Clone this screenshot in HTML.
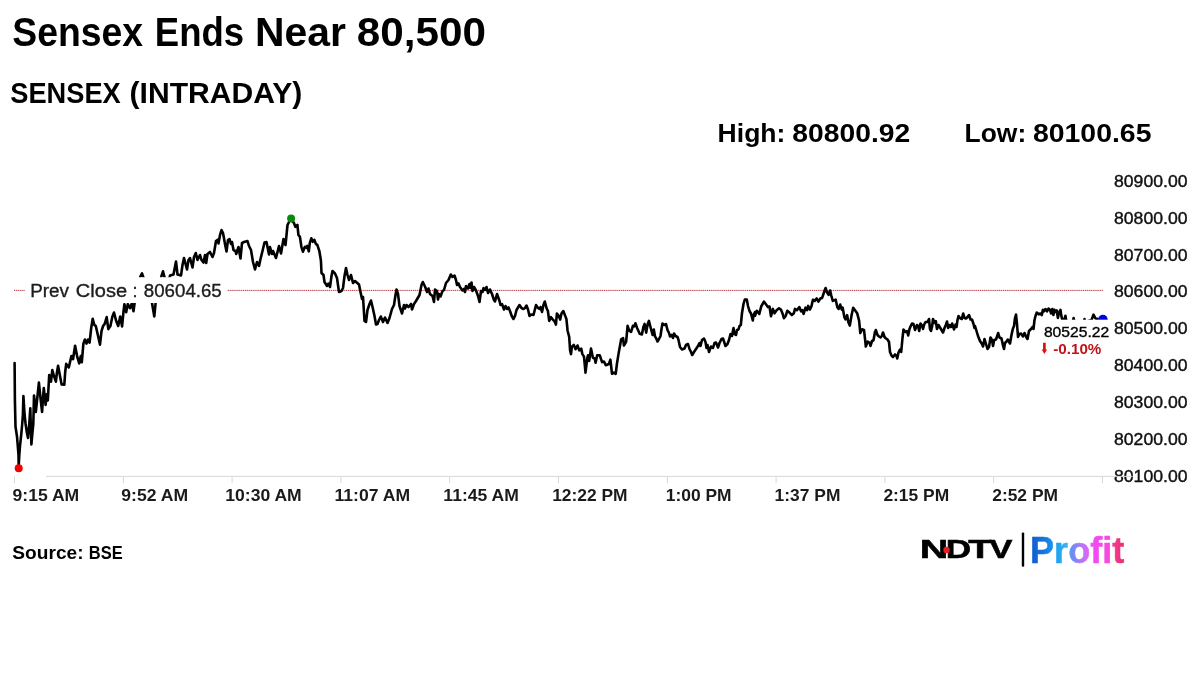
<!DOCTYPE html>
<html lang="en">
<head>
<meta charset="utf-8">
<title>Sensex Ends Near 80,500</title>
<style>
html,body{margin:0;padding:0;background:#fff;}
body{width:1200px;height:674px;overflow:hidden;font-family:"Liberation Sans", sans-serif;}
svg{display:block;position:absolute;left:0;top:0;will-change:transform;}
text{font-family:"Liberation Sans", sans-serif;}
.b{font-weight:700;}
</style>
</head>
<body>
<svg width="1200" height="674" viewBox="0 0 1200 674">
<defs>
<linearGradient id="pg" gradientUnits="userSpaceOnUse" x1="1032" y1="0" x2="1124" y2="0">
<stop offset="0" stop-color="#0f5fd0"/>
<stop offset="0.14" stop-color="#1878e0"/>
<stop offset="0.26" stop-color="#16a0f0"/>
<stop offset="0.38" stop-color="#3cb4f6"/>
<stop offset="0.44" stop-color="#6f8cf2"/>
<stop offset="0.52" stop-color="#a97af4"/>
<stop offset="0.61" stop-color="#dd66f5"/>
<stop offset="0.68" stop-color="#f24af2"/>
<stop offset="0.83" stop-color="#f74ae0"/>
<stop offset="0.89" stop-color="#f43a95"/>
<stop offset="1" stop-color="#e9306a"/>
</linearGradient>
</defs>
<rect x="0" y="0" width="1200" height="674" fill="#ffffff"/>
<text class="b" x="12.33" y="45.6" font-size="40.0" textLength="130.7" lengthAdjust="spacingAndGlyphs" fill="#000">Sensex</text>
<text class="b" x="154.79" y="45.6" font-size="40.0" textLength="89.32" lengthAdjust="spacingAndGlyphs" fill="#000">Ends</text>
<text class="b" x="254.99" y="45.6" font-size="40.0" textLength="90.83" lengthAdjust="spacingAndGlyphs" fill="#000">Near</text>
<text class="b" x="356.78" y="45.6" font-size="40.0" textLength="129.1" lengthAdjust="spacingAndGlyphs" fill="#000">80,500</text>
<text class="b" x="10.25" y="102.5" font-size="28.6" textLength="110.51" lengthAdjust="spacingAndGlyphs" fill="#000">SENSEX</text>
<text class="b" x="129.62" y="102.5" font-size="28.6" textLength="172.66" lengthAdjust="spacingAndGlyphs" fill="#000">(INTRADAY)</text>
<text class="b" x="717.63" y="141.6" font-size="26.2" textLength="67.71" lengthAdjust="spacingAndGlyphs" fill="#000">High:</text>
<text class="b" x="792.39" y="141.6" font-size="26.2" textLength="117.92" lengthAdjust="spacingAndGlyphs" fill="#000">80800.92</text>
<text class="b" x="964.64" y="141.6" font-size="26.2" textLength="61.58" lengthAdjust="spacingAndGlyphs" fill="#000">Low:</text>
<text class="b" x="1032.94" y="141.6" font-size="26.2" textLength="118.51" lengthAdjust="spacingAndGlyphs" fill="#000">80100.65</text>
<path d="M14 290.4 H1103" stroke="#f3c6c6" stroke-width="1" fill="none"/>
<path d="M14 290.4 H1103" stroke="#b0363c" stroke-width="1" stroke-dasharray="1 1.1" fill="none"/>
<path d="M14.6 363 L14.9 400 L15.5 426.6 L17.1 437.3 L18.5 455 L18.7 466 L19.3 455 L20 446.2 L21.4 432.8 L22.2 424 L22.9 415 L23.4 396 L24.6 415 L25.6 424 L26.9 432.8 L28 438 L29.2 425 L30.3 408.4 L30.9 430 L31.4 444.4 L32.5 432 L33.3 424 L34 395.5 L35 405 L35.8 412 L37.5 396 L38.9 382.6 L40.5 398 L42.1 412 L43 398 L43.8 388 L45.6 404.9 L46.9 394.2 L47.8 400.4 L48.5 388 L49.2 375 L51 381.7 L52.3 370.1 L54 376 L55.9 381.7 L57 372 L58.1 365.7 L60 376 L61.6 384.4 L64.3 384.8 L65.2 372 L66.2 363.9 L68.8 367.5 L71.4 356.1 L73 359.2 L75.1 345.7 L77.1 356.1 L79.2 363.4 L80.8 356.1 L81.8 362.3 L83.4 343.6 L84.9 339.5 L86.5 343.6 L88 339.5 L89.6 342.6 L91.2 328 L92.7 318.7 L94.3 324.9 L95.8 326 L97.9 335.3 L100 344.7 L101.5 331.2 L103.1 326 L104.7 323.9 L106.7 317.1 L108.3 329.1 L110.4 326 L112.4 316.6 L114 312.5 L116.1 320.8 L118.2 326 L120.2 316.6 L122.1 326.5 L123.4 312.5 L124.4 304.2 L126.2 312.3 L127.8 304 L130 308.2 L131.8 303.5 L133.5 311.3 L134.6 303 L136.5 292 L138.5 285 L140.2 277 L142 273.4 L143.9 279 L146 288 L148 284 L150 296 L152 303 L154.3 316.5 L155.6 303 L157.5 290 L159.5 283 L161.5 276 L163 271.3 L164.7 278 L166.5 283 L168 279 L169.8 277 L170 275.5 L173.5 274.5 L176 261.5 L177.5 274.5 L181 275.5 L182.5 265 L184 258 L187 269.5 L188.5 260 L190 258 L192.5 267.5 L194 257 L195.8 253 L197.5 260 L200 255 L201.5 260 L203.5 262.5 L205 255 L206.2 263 L207.5 254 L210 252 L212.5 257 L214 253 L216 241 L218 239.5 L218.5 243.5 L220 235 L221.5 230 L223 233 L225 244 L226.5 251.5 L228 240 L229.5 239 L231 244 L232 242 L233.5 250 L235.5 251 L236.2 254 L238.5 247 L240.5 258.5 L242 243 L244 242 L247.5 241 L249 246 L251 250 L253 262 L255 269.5 L257 262 L259 266 L260.5 259 L262.5 251 L264.5 242.5 L266.5 242 L269 254.5 L270 247 L272 254 L273 251 L276 258 L279 246 L281 253.5 L283.5 239 L285.5 245 L287.5 225 L289.5 221 L290.9 219.4 L293.9 222.9 L295.4 226.9 L297.4 224.9 L298.4 234.9 L299.9 236.8 L301.4 246.8 L302.9 251.7 L304.9 246.8 L306.3 247.8 L307.3 245.8 L308.8 251.3 L309.8 242.8 L311.3 238.3 L312.8 241.8 L314.3 239.8 L315.8 243.8 L317.3 244.8 L319.3 250.8 L320.8 259.7 L321 262 L321.5 273 L323.5 275 L324.5 282 L327 286 L328.5 283.5 L330 287 L331.5 276 L332.5 271 L335 273.5 L337 278 L339 292 L341.5 291 L343 288 L344.5 276 L346 268 L347.5 275 L349 280 L351 275 L353 283 L355 281 L359 284.5 L360.5 292 L362 299 L363 297 L364.5 321 L366 322 L367.5 310 L369.5 304 L371 300.5 L373 309 L374.5 316 L376 324.5 L377.5 324 L379 320 L380.8 316.5 L383 322 L385 317.5 L387.5 323 L389.5 318 L392 309 L394 305 L395.5 295 L396.5 289.5 L398 294 L399.5 306 L402 313.5 L404 305 L405 308.5 L406.5 305 L408.5 307 L411 304 L412 309.5 L414 304 L416 301 L419.5 295 L421.5 285 L422.8 282 L425 286.5 L427 292 L428.5 288.5 L430 294 L432.5 296 L434 302 L435 289.5 L437 291 L438 299.5 L439 294 L440.5 296.5 L442.5 291 L444 290 L446 283 L448.5 280 L450.8 274.5 L452.5 277 L454.5 275.5 L456 280 L457 285 L458.5 283.5 L460 287 L462.5 290.5 L464 289 L465 292 L466 286 L468 288.5 L469.5 284 L470.5 288 L471.5 282.5 L472.5 291 L474 287 L476 290.5 L478 296 L479.5 302 L481 291 L482.5 292 L483.5 288 L485 290 L486.5 287 L488 293 L490 289.5 L492 294 L494 300 L495 301.5 L497 294 L499.5 301 L500.5 305 L502 304 L504 309.5 L505.5 306 L507 309 L508.5 307.5 L510 311 L511.5 315.5 L513.5 319 L515 316 L516.5 310 L519.5 305 L521.5 308 L523.5 309 L525 308 L526.5 305.5 L528 309.5 L529.5 316 L531 314.5 L533.5 315 L535 309 L536 305 L538 308 L539.5 309 L540.5 307 L542 312 L543.5 305 L544.8 301.5 L546.7 308.5 L547.9 311 L549.2 320.9 L551 317.2 L552.9 319.6 L554.7 321.5 L555.9 324.6 L556.9 313.5 L558.4 315.3 L560.2 319.6 L561.5 313.5 L563.3 311 L565.2 315.9 L566.4 319 L567.6 330.7 L569.2 336.9 L570.1 350.4 L571 354.1 L571.9 346.7 L573.8 344.9 L575.6 349.2 L577.5 345.5 L579.3 350.4 L581.2 348.6 L582.4 354.1 L584 356.6 L585.5 372.6 L587.3 357.8 L588 355.3 L589.2 360.9 L591 348.6 L592.9 357.8 L594.7 358.4 L595.6 362.7 L597.2 355.3 L599.7 355.3 L602.1 362.1 L604 361.5 L605.8 365.2 L608.9 364 L610.4 359.7 L612 373.8 L613.8 372.6 L615.7 373.8 L616.9 364 L618.7 352.9 L621.2 339.3 L623.1 338.1 L623.9 345.5 L626.1 341.8 L627.6 325.8 L629.2 330.7 L631.1 331.9 L632.9 325.8 L634.1 326.4 L635.4 323.3 L637.2 328.3 L639.7 333.8 L641.9 334.4 L643.4 327 L644.6 323.9 L646.2 332.6 L647.7 323.9 L648.9 320.9 L650.8 328.3 L652.6 335 L653.8 329.5 L655 336.5 L656 338 L657.5 341.5 L659 339 L660.5 336 L661.5 329 L662.5 323.5 L664.5 325 L666 324 L667.5 330 L669 333 L670 336.5 L671.5 335 L673 338 L674 333.5 L675.5 336 L677.5 337 L678.5 340 L680 347 L682 349.5 L684.5 348.5 L686 345 L688 344 L689.5 349 L691 352 L692.2 355 L694 352 L696 349 L698 346 L699.5 343 L700.5 346 L702 340 L704 338.5 L705.5 342 L706.5 348 L707.5 345 L709 352 L711 346.5 L713 348 L714.5 343 L716 342.5 L718 347.5 L719.5 343 L721.5 339 L723 338.5 L724.5 343 L725.5 346 L727.5 344 L729 340 L730.5 334 L732 336 L733.5 328 L734.5 334 L736 335 L737 330 L738.5 329.5 L739.5 326 L740.8 325 L742 313 L743.5 304 L744.8 299.5 L746.8 299.5 L748 306 L749.5 311 L751 313.5 L752.8 320.5 L753.5 315 L755 312 L755 315.7 L756.8 310.8 L759.3 313.9 L761.2 306.5 L763.9 301.6 L766.1 304.6 L767.9 307.1 L769.5 306.5 L771 316.3 L772.9 308.9 L774.5 313.3 L776.6 310.2 L779 308.3 L780.9 309.6 L782.7 313.9 L783.9 318.2 L785.8 315.7 L787.3 310.8 L789.5 312.6 L791.9 315.1 L793.8 313.3 L795 308.9 L796.9 310.2 L799.3 307.1 L801.2 311.4 L802.4 310.2 L803.6 313.9 L805.5 307.7 L807 310.2 L808.2 305.9 L809.8 309.6 L811.4 306.5 L812.9 299.7 L814.7 300.9 L816.6 298.5 L818.4 301.6 L820.3 298.5 L822.1 297.9 L824 292.3 L825.6 288 L827 292.3 L828.6 294.8 L830.1 290.5 L831.4 296 L832.8 300.9 L835.7 299.7 L837.3 307.1 L838.7 308.9 L840.2 304.6 L841.8 309.6 L842.7 307.7 L844.3 316.9 L845.5 319.4 L847.1 315.1 L848.3 321.9 L849.8 325.6 L851.7 314.5 L853.2 307.7 L855 310.2 L857.2 313.3 L859.1 320.6 L860.3 333 L862.1 329.3 L864 329.9 L865.2 340.3 L865.8 346.5 L867.7 341.6 L869.5 342.8 L870.5 345.9 L872 341 L873.5 340.3 L875 331.7 L875 333.5 L875.8 330 L877.5 335 L879 336.5 L880.5 337.5 L881.8 336 L883 332.5 L884.5 337 L886 338.5 L887.5 339.5 L889 342 L890 352 L891.5 355.5 L893 357 L895 354.5 L896.5 356 L897.2 358.5 L898.5 352.5 L900 349.5 L901.2 352 L902.5 338 L903.5 329.5 L905.5 332 L907 331 L908.2 335.5 L909.5 329 L910.5 326.5 L912 323.5 L913.5 324 L915 330 L917 325 L918 326 L919.2 331 L920.5 323.5 L922 325.5 L923 329 L924.2 324.5 L925.5 322 L927.5 322 L929 319 L930 329 L931 331 L932.2 326 L933 319 L934.5 323 L935.8 321 L937 329 L938.5 325 L940 327.5 L941.5 330 L943 332.5 L944.5 328 L945.8 325 L947 321.5 L948.2 328 L949.5 325 L951 327 L952.2 323.5 L954 329.5 L955.5 324.5 L956.5 327 L957.5 320 L958.5 316 L960 318 L961.8 319 L963.2 313.5 L964.5 318 L966 318.5 L967.5 317 L969 315 L970.5 319.5 L972 319.5 L973.5 324 L974.5 328 L975 326 L976.5 331 L978 336 L980 341 L982 344 L983 346.5 L984.5 339 L986 344 L987.5 349 L989 347 L990.5 337.5 L992 340 L993 346 L994.2 340 L996 339.5 L998.2 333 L999.5 337.5 L1001.5 338.5 L1003 345.5 L1004 349 L1005 343 L1006.5 341.5 L1007.8 339.5 L1010 343.5 L1011.5 335 L1012.8 329 L1014 326 L1015 318 L1016 314.5 L1017 324 L1018 337 L1019.5 334 L1021 333.5 L1023 336.5 L1024.5 333 L1026.5 337.5 L1027.5 339 L1029 331 L1031 329 L1032.5 327 L1033.5 329 L1034.5 320 L1035.5 316 L1036.8 312.5 L1037.3 312.8 L1038.8 314.3 L1040.3 313.5 L1041.8 315 L1042.9 309.8 L1044 311.3 L1045.5 309 L1047 311.3 L1048.5 308.6 L1050 309.8 L1051.1 313.5 L1052.3 309 L1053.4 315 L1054.5 309.8 L1055.6 312 L1056.8 310.5 L1057.9 318 L1059 312.8 L1060.5 309.8 L1061.3 315.8 L1062.4 320.3 L1063.5 322 L1065.4 315.8 L1066.5 322 L1072.8 322 L1073.6 318 L1074.5 322 L1083.8 322 L1084.5 319 L1085.3 322 L1091.5 320 L1093.5 314.6 L1095.5 318.5 L1098 319 L1102.9 319.5" fill="none" stroke="#000" stroke-width="2.6" stroke-linejoin="round" stroke-linecap="round"/>
<circle cx="291.1" cy="218.4" r="4" fill="#0a8a0a"/>
<circle cx="18.7" cy="468.2" r="4" fill="#f00000"/>
<circle cx="1102.9" cy="319.6" r="4.8" fill="#0000e0"/>
<rect x="25" y="277.2" width="202" height="25.8" fill="#fff"/>
<text x="30.23" y="296.9" font-size="18.0" textLength="38.79" lengthAdjust="spacingAndGlyphs" fill="#1c1c1c" stroke="#1c1c1c" stroke-width="0.35">Prev</text>
<text x="75.89" y="296.9" font-size="18.0" textLength="51.18" lengthAdjust="spacingAndGlyphs" fill="#1c1c1c" stroke="#1c1c1c" stroke-width="0.35">Close</text>
<text x="132.50" y="296.9" font-size="18.0" fill="#1c1c1c" stroke="#1c1c1c" stroke-width="0.35">:</text>
<text x="143.82" y="296.9" font-size="18.0" textLength="77.94" lengthAdjust="spacingAndGlyphs" fill="#1c1c1c" stroke="#1c1c1c" stroke-width="0.35">80604.65</text>
<rect x="1040" y="319.7" width="71" height="39" fill="#fff"/>
<text x="1043.93" y="337.0" font-size="15.2" textLength="65.26" lengthAdjust="spacingAndGlyphs" fill="#000" stroke="#000" stroke-width="0.35">80525.22</text>
<path d="M1043.05 342.7 h2.7 v6.9 h1.35 l-2.7 4.4 l-2.7 -4.4 h1.35 z" fill="#dc1212"/>
<text class="b" x="1053.21" y="354.0" font-size="15.5" textLength="48.16" lengthAdjust="spacingAndGlyphs" fill="#be1418">-0.10%</text>
<text x="1114" y="186.8" font-size="16.7" textLength="73.5" lengthAdjust="spacingAndGlyphs" fill="#111" stroke="#111" stroke-width="0.4">80900.00</text>
<text x="1114" y="223.7" font-size="16.7" textLength="73.5" lengthAdjust="spacingAndGlyphs" fill="#111" stroke="#111" stroke-width="0.4">80800.00</text>
<text x="1114" y="260.6" font-size="16.7" textLength="73.5" lengthAdjust="spacingAndGlyphs" fill="#111" stroke="#111" stroke-width="0.4">80700.00</text>
<text x="1114" y="297.4" font-size="16.7" textLength="73.5" lengthAdjust="spacingAndGlyphs" fill="#111" stroke="#111" stroke-width="0.4">80600.00</text>
<text x="1114" y="334.3" font-size="16.7" textLength="73.5" lengthAdjust="spacingAndGlyphs" fill="#111" stroke="#111" stroke-width="0.4">80500.00</text>
<text x="1114" y="371.2" font-size="16.7" textLength="73.5" lengthAdjust="spacingAndGlyphs" fill="#111" stroke="#111" stroke-width="0.4">80400.00</text>
<text x="1114" y="408.1" font-size="16.7" textLength="73.5" lengthAdjust="spacingAndGlyphs" fill="#111" stroke="#111" stroke-width="0.4">80300.00</text>
<text x="1114" y="444.9" font-size="16.7" textLength="73.5" lengthAdjust="spacingAndGlyphs" fill="#111" stroke="#111" stroke-width="0.4">80200.00</text>
<text x="1114" y="481.8" font-size="16.7" textLength="73.5" lengthAdjust="spacingAndGlyphs" fill="#111" stroke="#111" stroke-width="0.4">80100.00</text>
<g stroke="#d8d8d8" stroke-width="1" fill="none">
<path d="M46 476.4 H1132.5"/>
<path d="M14.5 476.4 V483.2"/>
<path d="M123.3 476.4 V483.2"/>
<path d="M232.1 476.4 V483.2"/>
<path d="M340.9 476.4 V483.2"/>
<path d="M449.7 476.4 V483.2"/>
<path d="M558.5 476.4 V483.2"/>
<path d="M667.3 476.4 V483.2"/>
<path d="M776.1 476.4 V483.2"/>
<path d="M884.9 476.4 V483.2"/>
<path d="M993.7 476.4 V483.2"/>
<path d="M1102.5 476.4 V483.2"/>
</g>
<text class="b" text-anchor="middle" x="45.9" y="500.8" font-size="17.3" textLength="66.75" lengthAdjust="spacingAndGlyphs" fill="#1a1a1a">9:15 AM</text>
<text class="b" text-anchor="middle" x="154.7" y="500.8" font-size="17.3" textLength="66.75" lengthAdjust="spacingAndGlyphs" fill="#1a1a1a">9:52 AM</text>
<text class="b" text-anchor="middle" x="263.5" y="500.8" font-size="17.3" textLength="76.43" lengthAdjust="spacingAndGlyphs" fill="#1a1a1a">10:30 AM</text>
<text class="b" text-anchor="middle" x="372.3" y="500.8" font-size="17.3" textLength="75.47" lengthAdjust="spacingAndGlyphs" fill="#1a1a1a">11:07 AM</text>
<text class="b" text-anchor="middle" x="481.1" y="500.8" font-size="17.3" textLength="75.47" lengthAdjust="spacingAndGlyphs" fill="#1a1a1a">11:45 AM</text>
<text class="b" text-anchor="middle" x="589.9" y="500.8" font-size="17.3" textLength="75.47" lengthAdjust="spacingAndGlyphs" fill="#1a1a1a">12:22 PM</text>
<text class="b" text-anchor="middle" x="698.7" y="500.8" font-size="17.3" textLength="65.79" lengthAdjust="spacingAndGlyphs" fill="#1a1a1a">1:00 PM</text>
<text class="b" text-anchor="middle" x="807.5" y="500.8" font-size="17.3" textLength="65.79" lengthAdjust="spacingAndGlyphs" fill="#1a1a1a">1:37 PM</text>
<text class="b" text-anchor="middle" x="916.3" y="500.8" font-size="17.3" textLength="65.79" lengthAdjust="spacingAndGlyphs" fill="#1a1a1a">2:15 PM</text>
<text class="b" text-anchor="middle" x="1025.1" y="500.8" font-size="17.3" textLength="65.79" lengthAdjust="spacingAndGlyphs" fill="#1a1a1a">2:52 PM</text>
<text class="b" x="12.38" y="559.3" font-size="18.3" textLength="71.13" lengthAdjust="spacingAndGlyphs" fill="#000">Source:</text>
<text class="b" x="88.87" y="559.3" font-size="18.3" textLength="33.89" lengthAdjust="spacingAndGlyphs" fill="#000">BSE</text>
<text class="b" x="919.82" y="558.3" font-size="25.0" textLength="28.65" lengthAdjust="spacingAndGlyphs" fill="#000" stroke="#000" stroke-width="0.5">N</text>
<text class="b" x="945.74" y="558.3" font-size="25.0" textLength="25.35" lengthAdjust="spacingAndGlyphs" fill="#000" stroke="#000" stroke-width="0.5">D</text>
<text class="b" x="968.21" y="558.3" font-size="25.0" textLength="23.62" lengthAdjust="spacingAndGlyphs" fill="#000" stroke="#000" stroke-width="0.5">T</text>
<text class="b" x="989.25" y="558.3" font-size="25.0" textLength="23.21" lengthAdjust="spacingAndGlyphs" fill="#000" stroke="#000" stroke-width="0.5">V</text>
<rect x="946.1" y="540" width="0.8" height="19" fill="#fff"/>
<circle cx="946.5" cy="550" r="3.2" fill="#ee1c25"/>
<rect x="1021.8" y="532.6" width="2.4" height="34.2" rx="1" fill="#000"/>
<text class="b" x="1030.03" y="563.0" font-size="36.6" textLength="94.26" lengthAdjust="spacingAndGlyphs" fill="url(#pg)" stroke="url(#pg)" stroke-width="0.5">Profit</text>
</svg>
</body>
</html>
